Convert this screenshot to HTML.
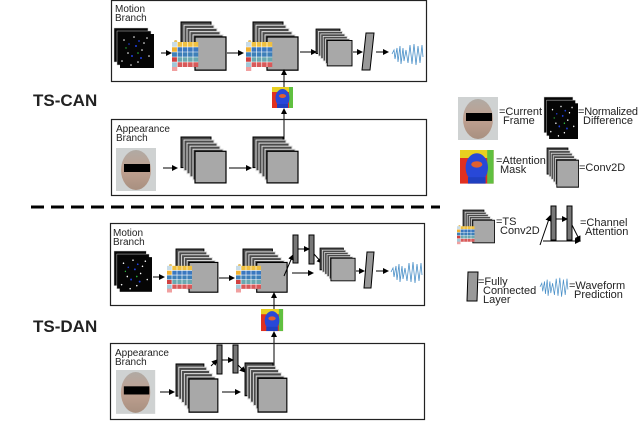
<!DOCTYPE html>
<html><head><meta charset="utf-8"><style>
html,body{margin:0;padding:0;background:#fff;width:640px;height:421px;overflow:hidden}
text{font-family:"Liberation Sans",sans-serif;fill:#222}
</style></head><body>
<svg width="640" height="421" viewBox="0 0 640 421" xmlns="http://www.w3.org/2000/svg">
<defs>
<marker id="ar" markerWidth="6" markerHeight="6" refX="5" refY="3" orient="auto" markerUnits="userSpaceOnUse">
<path d="M0,0 L6,3 L0,6 z" fill="#000"/></marker>
<g id="st">
<rect x="0" y="0" width="30" height="30" fill="#4a4a4a" stroke="#000" stroke-width="1"/>
<rect x="3" y="3" width="30" height="30" fill="#4a4a4a" stroke="#ddd" stroke-width="1"/>
<rect x="6" y="6" width="30" height="30" fill="#4a4a4a" stroke="#ddd" stroke-width="1"/>
<rect x="9" y="9" width="30" height="30" fill="#4a4a4a" stroke="#ddd" stroke-width="1"/>
<rect x="12" y="12" width="30" height="30" fill="#4a4a4a" stroke="#ddd" stroke-width="1"/>
<rect x="14" y="14" width="31" height="31" fill="#a8a8a8" stroke="#000" stroke-width="1.2"/>
</g>
<g id="gr">
<rect x="2" y="0" width="3" height="3" rx="1.5" fill="#e8c060"/>
<rect x="5" y="2" width="20" height="5" fill="#f0c040"/>
<rect x="0" y="2" width="5" height="5" fill="#c8dce8"/>
<rect x="0" y="7" width="25" height="5" fill="#3a78c0"/>
<rect x="0" y="7" width="5" height="5" fill="#f0b030"/>
<rect x="0" y="12" width="25" height="5" fill="#3d7fb8"/>
<rect x="0" y="17" width="25" height="5" fill="#6aa8b0"/>
<rect x="0" y="17" width="5" height="5" fill="#d04040"/>
<rect x="0" y="22" width="25" height="5" fill="#d85a5a"/>
<rect x="0" y="22" width="5" height="5" fill="#a0c8d8"/>
<rect x="0" y="27" width="5" height="4" fill="#f0a0a0"/>
<path d="M0,7H25M0,12H25M0,17H25M0,22H25M5,2V27M10,2V27M15,2V27M20,2V27" stroke="#fff" stroke-width="0.6"/>
</g>
<g id="nz">
<rect x="0" y="0" width="34" height="34" fill="#050505" stroke="#ccc" stroke-width="0.5"/>
<rect x="3" y="3" width="34" height="34" fill="#050505" stroke="#ccc" stroke-width="0.5"/>
<rect x="6" y="6" width="34" height="34" fill="#050505"/>
<g fill="#fff"><circle cx="10" cy="12" r="0.8"/><circle cx="20" cy="9" r="0.8"/><circle cx="30" cy="15" r="0.8"/><circle cx="14" cy="25" r="0.8"/><circle cx="35" cy="28" r="0.8"/><circle cx="24" cy="34" r="0.8"/><circle cx="8" cy="33" r="0.8"/><circle cx="28" cy="22" r="0.8"/><circle cx="33" cy="10" r="0.8"/><circle cx="17" cy="37" r="0.8"/></g>
<g fill="#2040e0"><circle cx="22" cy="18" r="1"/><circle cx="18" cy="28" r="1"/><circle cx="27" cy="30" r="1"/><circle cx="15" cy="16" r="0.8"/><circle cx="25" cy="13" r="0.9"/></g>
<g fill="#30c040"><circle cx="24" cy="25" r="0.8"/><circle cx="12" cy="20" r="0.7"/></g>
</g>
<linearGradient id="fg" x1="0" y1="0" x2="0" y2="1"><stop offset="0" stop-color="#b0aaa4"/><stop offset="0.5" stop-color="#bfa090"/><stop offset="1" stop-color="#a89080"/></linearGradient>
<g id="face">
<rect x="0" y="0" width="40" height="43" fill="#cfd2d2"/>
<ellipse cx="20" cy="22" rx="15" ry="20" fill="url(#fg)"/>
<rect x="8" y="16" width="26" height="8" fill="#000"/>
</g>
<g id="mask">
<rect x="0" y="0" width="21" height="21" fill="#e03020"/>
<rect x="0" y="0" width="21" height="5" fill="#e8d020"/>
<rect x="17" y="0" width="4" height="21" fill="#60c040"/>
<ellipse cx="10.5" cy="11" rx="7" ry="9" fill="#2848d8"/>
<ellipse cx="10.5" cy="9" rx="3.5" ry="2" fill="#e06030"/>
<rect x="5" y="17" width="11" height="4" fill="#2040c0"/>
</g>
<g id="wave"><polyline points="0,12 2,8 3,17 5,6 6,20 8,4 9,22 11,6 12,19 14,8 16,21 18,3 20,22 22,2 24,23 26,4 28,21 30,3 31,15" fill="none" stroke="#4a90c8" stroke-width="0.8"/></g>
</defs>

<!-- TS-CAN -->
<rect x="111.5" y="0.5" width="315" height="81" fill="none" stroke="#222" stroke-width="1.2"/>
<text x="115" y="12" font-size="10">Motion</text><text x="115" y="21" font-size="10">Branch</text>
<use href="#nz" transform="translate(114,28)"/>
<line x1="161" y1="53" x2="171" y2="53" stroke="#000" marker-end="url(#ar)"/>
<use href="#st" transform="translate(181,22) scale(1.0,1.07)"/>
<use href="#gr" transform="translate(172,40) scale(1.05,1)"/>
<line x1="227" y1="53" x2="243" y2="53" stroke="#000" marker-end="url(#ar)"/>
<use href="#st" transform="translate(253,22) scale(1.0,1.07)"/>
<use href="#gr" transform="translate(246,40) scale(1.05,1)"/>
<line x1="300" y1="52" x2="316" y2="52" stroke="#000" marker-end="url(#ar)"/>
<use href="#st" transform="translate(316,29) scale(0.8,0.82)"/>
<line x1="353" y1="52" x2="362" y2="52" stroke="#000" marker-end="url(#ar)"/>
<polygon points="366,33 374,33 370,70 362,70" fill="#999" stroke="#000"/>
<line x1="376" y1="52" x2="388" y2="52" stroke="#000" marker-end="url(#ar)"/>
<use href="#wave" transform="translate(392,42)"/>
<use href="#mask" transform="translate(272,87)"/>
<line x1="284" y1="87" x2="284" y2="70" stroke="#000" marker-end="url(#ar)"/>
<line x1="284" y1="150" x2="284" y2="109" stroke="#000" marker-end="url(#ar)"/>
<text x="33" y="106" font-size="17" font-weight="bold" fill="#111">TS-CAN</text>
<rect x="111.5" y="119.5" width="315" height="76" fill="none" stroke="#222" stroke-width="1.2"/>
<text x="116" y="132" font-size="10">Appearance</text><text x="116" y="141" font-size="10">Branch</text>
<use href="#face" transform="translate(116,148)"/>
<line x1="163" y1="168" x2="177" y2="168" stroke="#000" marker-end="url(#ar)"/>
<use href="#st" transform="translate(181,137) scale(1.0,1.02)"/>
<line x1="229" y1="168" x2="251" y2="168" stroke="#000" marker-end="url(#ar)"/>
<use href="#st" transform="translate(253,137) scale(1.0,1.02)"/>

<!-- dashed -->
<line x1="31" y1="207" x2="440" y2="207" stroke="#000" stroke-width="3" stroke-dasharray="13,7"/>

<!-- TS-DAN -->
<rect x="110.5" y="223.5" width="314" height="82" fill="none" stroke="#222" stroke-width="1.2"/>
<text x="113" y="236" font-size="10">Motion</text><text x="113" y="245" font-size="10">Branch</text>
<use href="#nz" transform="translate(114,251) scale(0.95,1.02)"/>
<line x1="153" y1="277" x2="164" y2="277" stroke="#000" marker-end="url(#ar)"/>
<use href="#st" transform="translate(176,249) scale(0.93,0.96)"/>
<use href="#gr" transform="translate(167,264) scale(1.0,0.92)"/>
<line x1="219" y1="278" x2="234" y2="278" stroke="#000" marker-end="url(#ar)"/>
<use href="#st" transform="translate(243,249) scale(0.98,0.96)"/>
<use href="#gr" transform="translate(236,264) scale(1.0,0.92)"/>
<rect x="293" y="235" width="5" height="28" fill="#777" stroke="#000"/>
<rect x="309" y="235" width="5" height="29" fill="#777" stroke="#000"/>
<line x1="284" y1="276" x2="293" y2="255" stroke="#000" marker-end="url(#ar)"/>
<line x1="298" y1="249" x2="309" y2="249" stroke="#000" marker-end="url(#ar)"/>
<line x1="314" y1="254" x2="322" y2="263" stroke="#000" marker-end="url(#ar)"/>
<line x1="292" y1="273" x2="313" y2="273" stroke="#000" marker-end="url(#ar)"/>
<use href="#st" transform="translate(320,248) scale(0.78,0.73)"/>
<line x1="356" y1="271" x2="364" y2="271" stroke="#000" marker-end="url(#ar)"/>
<polygon points="367,252 374,252 371,288 364,288" fill="#999" stroke="#000"/>
<line x1="376" y1="271" x2="388" y2="271" stroke="#000" marker-end="url(#ar)"/>
<use href="#wave" transform="translate(391,260)"/>
<use href="#mask" transform="translate(261,309) scale(1.05)"/>
<line x1="274" y1="309" x2="274" y2="293" stroke="#000" marker-end="url(#ar)"/>
<line x1="274" y1="388" x2="274" y2="332" stroke="#000" marker-end="url(#ar)"/>
<text x="33" y="332" font-size="17" font-weight="bold" fill="#111">TS-DAN</text>
<rect x="110.5" y="343.5" width="314" height="76" fill="none" stroke="#222" stroke-width="1.2"/>
<text x="115" y="356" font-size="10">Appearance</text><text x="115" y="365" font-size="10">Branch</text>
<use href="#face" transform="translate(116,370) scale(0.98,1.02)"/>
<line x1="160" y1="392" x2="174" y2="392" stroke="#000" marker-end="url(#ar)"/>
<use href="#st" transform="translate(176,364) scale(0.93,1.07)"/>
<rect x="217" y="345" width="5" height="29" fill="#777" stroke="#000"/>
<rect x="233" y="345" width="5" height="28" fill="#777" stroke="#000"/>
<line x1="211" y1="366" x2="217" y2="360" stroke="#000" marker-end="url(#ar)"/>
<line x1="222" y1="360" x2="233" y2="360" stroke="#000" marker-end="url(#ar)"/>
<line x1="238" y1="365" x2="245" y2="372" stroke="#000" marker-end="url(#ar)"/>
<line x1="222" y1="392" x2="240" y2="392" stroke="#000" marker-end="url(#ar)"/>
<use href="#st" transform="translate(245,363) scale(0.93,1.09)"/>

<!-- Legend -->
<use href="#face" transform="translate(458,97)"/>
<text x="499" y="115" font-size="11">=Current</text><text x="503" y="124" font-size="11">Frame</text>
<use href="#nz" transform="translate(544,97) scale(0.85,1.05)"/>
<text x="578" y="115" font-size="11" textLength="60">=Normalized</text><text x="583" y="124" font-size="11">Difference</text>
<use href="#mask" transform="translate(460,150) scale(1.6)"/>
<text x="496" y="164" font-size="11">=Attention</text><text x="500" y="173" font-size="11">Mask</text>
<use href="#st" transform="translate(547,148) scale(0.7,0.87)"/>
<text x="579" y="171" font-size="11">=Conv2D</text>
<use href="#st" transform="translate(463,210) scale(0.7,0.73)"/>
<use href="#gr" transform="translate(457,225) scale(0.7,0.62)"/>
<text x="496" y="225" font-size="11">=TS</text><text x="500" y="234" font-size="11">Conv2D</text>
<rect x="551" y="206" width="5" height="34" fill="#777" stroke="#000"/>
<rect x="567" y="206" width="5" height="34" fill="#777" stroke="#000"/>
<line x1="540" y1="245" x2="550" y2="216" stroke="#000" marker-end="url(#ar)"/>
<line x1="556" y1="219" x2="567" y2="219" stroke="#000" marker-end="url(#ar)"/>
<line x1="572" y1="225" x2="580" y2="241" stroke="#000" marker-end="url(#ar)"/>
<line x1="543" y1="241" x2="580" y2="241" stroke="#000" marker-end="url(#ar)"/>
<text x="580" y="226" font-size="11">=Channel</text><text x="585" y="235" font-size="11">Attention</text>
<polygon points="468,272 478,272 477,301 467,301" fill="#999" stroke="#000"/>
<text x="478" y="285" font-size="11">=Fully</text><text x="483" y="294" font-size="11">Connected</text><text x="483" y="303" font-size="11">Layer</text>
<use href="#wave" transform="translate(540,276) scale(0.9,0.9)"/>
<text x="569" y="289" font-size="11">=Waveform</text><text x="574" y="298" font-size="11">Prediction</text>
</svg>
</body></html>
